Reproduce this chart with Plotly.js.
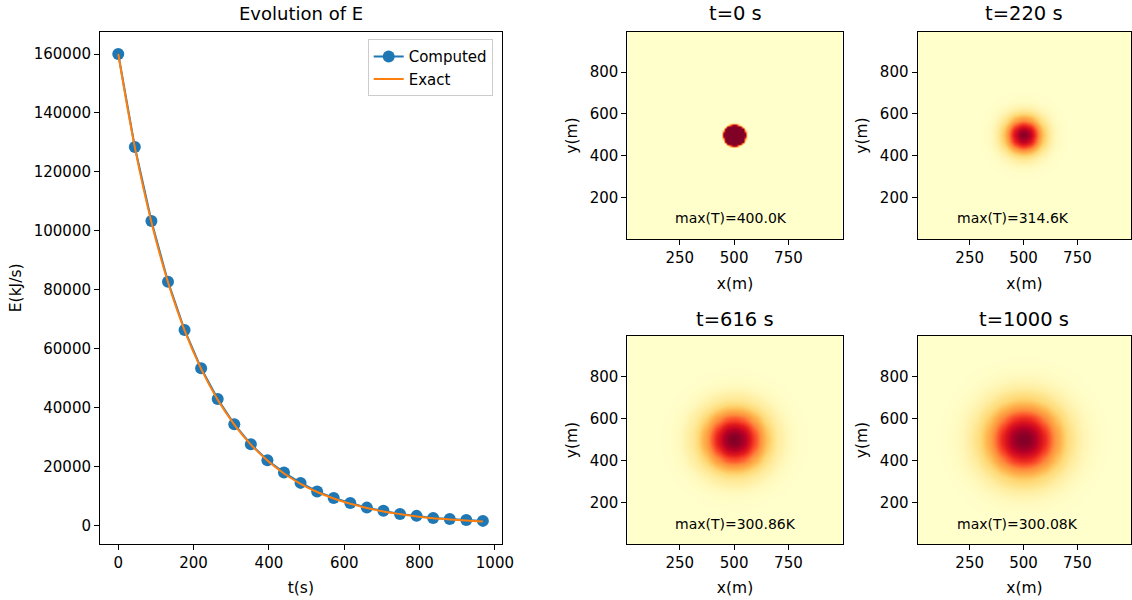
<!DOCTYPE html>
<html>
<head>
<meta charset="utf-8">
<script src="https://cdn.plot.ly/plotly-3.0.1.min.js"></script>
<style>html,body{margin:0;padding:0;background:#fff;}#chart{width:1132px;height:600px;}</style>
</head>
<body>
<div id="chart"></div>
<script>
// ---- Data ----
const timesS = [0,44,88,132,176,220,264,308,352,396,440,484,528,572,616,660,704,748,792,836,880,924,968];
const computedE = [160000,128400,103300,82700,66300,53300,42900,34300,27500,22100,17900,14400,11500,9300,7600,6000,4900,3800,3200,2500,2100,1800,1500];
const exactE = [160000,128300,102900,82500,66200,53100,42600,34200,27400,22000,17600,14100,11300,9100,7300,5900,4700,3800,3000,2400,2000,1600,1300];

const panelTitles = ["t=0 s", "t=220 s", "t=616 s", "t=1000 s"];
const maxLabels = ["max(T)=400.0K", "max(T)=314.6K", "max(T)=300.86K", "max(T)=300.08K"];

// radial temperature profiles (distance from centre in m -> T in K)
const profR0 = [0, 50, 56, 1000];
const profT0 = [400, 400, 300, 300];
const profR1 = [0, 25, 50, 75, 100, 125, 150, 175, 200, 250, 1000];
const profT1 = [314.6, 313.39, 310.32, 306.69, 303.65, 301.66, 300.64, 300.20, 300.06, 300.0, 300];
const profR2 = [0, 25, 50, 75, 100, 125, 150, 175, 200, 250, 300, 350, 1000];
const profT2 = [300.86, 300.833, 300.759, 300.649, 300.522, 300.394, 300.280, 300.186, 300.116, 300.038, 300.009, 300.002, 300];
const profR3 = [0, 25, 50, 75, 100, 125, 150, 175, 200, 250, 300, 350, 400, 1000];
const profT3 = [300.080, 300.0783, 300.0734, 300.0658, 300.0566, 300.0465, 300.0366, 300.0276, 300.0200, 300.0091, 300.0035, 300.0011, 300.0003, 300];
const centreXY = [500, 500];
const gridX = [], gridY = [];
for (let v = 0; v <= 1000; v += 10) { gridX.push(v); gridY.push(v); }

function interp(rs, ts, r) {
  for (let i = 1; i < rs.length; i++) {
    if (r <= rs[i]) { const f = (r - rs[i-1]) / (rs[i] - rs[i-1]); return ts[i-1] + f * (ts[i] - ts[i-1]); }
  }
  return ts[ts.length - 1];
}
function field(rs, ts) {
  return gridY.map(y => gridX.map(x => interp(rs, ts, Math.hypot(x - centreXY[0], y - centreXY[1]))));
}

const ylorrd = [[0,'#ffffcc'],[0.125,'#ffeda0'],[0.25,'#fed976'],[0.375,'#feb24c'],[0.5,'#fd8d3c'],[0.625,'#fc4e2a'],[0.75,'#e31a1c'],[0.875,'#bd0026'],[1,'#800026']];
const FONT = 'DejaVu Sans, sans-serif';
const TXT = '#000';

const hm = (rs, ts, xa, ya, smooth) => ({
  type: 'heatmap', x: gridX, y: gridY, z: field(rs, ts), colorscale: ylorrd,
  showscale: false, zsmooth: smooth, xaxis: xa, yaxis: ya, hoverinfo: 'skip'
});

const traces = [
  { type: 'scatter', mode: 'lines+markers', name: 'Computed', x: timesS, y: computedE,
    line: { color: '#1f77b4', width: 2 }, marker: { color: '#1f77b4', size: 12 } },
  { type: 'scatter', mode: 'lines', name: 'Exact', x: timesS, y: exactE,
    line: { color: '#ff7f0e', width: 2, shape: 'spline' } },
  hm(profR0, profT0, 'x2', 'y2', 'best'),
  hm(profR1, profT1, 'x3', 'y3', 'best'),
  hm(profR2, profT2, 'x4', 'y4', 'best'),
  hm(profR3, profT3, 'x5', 'y5', 'best')
];

const W = 1132, H = 600;
const px = v => v / W, py = v => 1 - v / H;

const baseAxis = {
  showline: true, mirror: true, linecolor: '#000', linewidth: 1,
  ticks: 'outside', ticklen: 5, tickcolor: '#000', tickwidth: 1,
  showgrid: false, zeroline: false,
  tickfont: { family: FONT, size: 15, color: TXT }
};
const hmX = (dom, anchor) => Object.assign({}, baseAxis, {
  domain: dom, anchor: anchor, range: [8, 1000], tickvals: [250, 500, 750],
  title: { text: 'x(m)', font: { family: FONT, size: 15.5, color: TXT }, standoff: 11 }
});
const hmY = (dom, anchor) => Object.assign({}, baseAxis, {
  domain: dom, anchor: anchor, range: [3, 992], tickvals: [200, 400, 600, 800],
  title: { text: 'y(m)', font: { family: FONT, size: 15.5, color: TXT }, standoff: 8 }
});

const topY = [py(239.3), py(31.7)];
const botY = [py(544), py(336)];
const leftX = [px(627.3), px(842.7)];
const rightX = [px(917.5), px(1131.3)];

const ttl = (text, x, y, size) => ({ text: text, x: x, y: y, xref: 'paper', yref: 'paper', showarrow: false,
  font: { family: FONT, size: size, color: TXT }, xanchor: 'center', yanchor: 'middle' });
const lab = (text, x, y, xr, yr) => ({ text: text, x: x, y: y, xref: xr, yref: yr, showarrow: false,
  xanchor: 'left', yanchor: 'middle', font: { family: FONT, size: 14, color: TXT } });

const annotations = [
  ttl('Evolution of E', px(300.8), py(14), 18),
  ttl(panelTitles[0], (leftX[0]+leftX[1])/2, py(14), 19.5),
  ttl(panelTitles[1], (rightX[0]+rightX[1])/2, py(14), 19.5),
  ttl(panelTitles[2], (leftX[0]+leftX[1])/2, py(319), 19.5),
  ttl(panelTitles[3], (rightX[0]+rightX[1])/2, py(319), 19.5),
  lab(maxLabels[0], 218, 103, 'x2', 'y2'),
  lab(maxLabels[1], 183, 103, 'x3', 'y3'),
  lab(maxLabels[2], 218, 100, 'x4', 'y4'),
  lab(maxLabels[3], 183, 100, 'x5', 'y5')
];

const layout = {
  width: W, height: H, margin: { l: 0, r: 0, t: 0, b: 0 },
  paper_bgcolor: '#fff', plot_bgcolor: '#fff',
  font: { family: FONT, color: TXT },
  showlegend: true,
  legend: { x: px(492.7), y: py(39.3), xanchor: 'right', yanchor: 'top',
    bordercolor: '#cccccc', borderwidth: 1, bgcolor: '#fff',
    font: { family: FONT, size: 15, color: TXT }, tracegroupgap: 0 },
  xaxis: Object.assign({}, baseAxis, { domain: [px(100), px(501.7)], anchor: 'y', range: [-48.5, 1018],
    tickvals: [0, 200, 400, 600, 800, 1000],
    title: { text: 't(s)', font: { family: FONT, size: 15.5, color: TXT }, standoff: 11 } }),
  yaxis: Object.assign({}, baseAxis, { domain: [py(544), py(31.7)], anchor: 'x', range: [-6350, 167570],
    tickvals: [0, 20000, 40000, 60000, 80000, 100000, 120000, 140000, 160000], tickformat: 'd',
    title: { text: 'E(kJ/s)', font: { family: FONT, size: 15.5, color: TXT }, standoff: 8 } }),
  xaxis2: hmX(leftX, 'y2'), yaxis2: hmY(topY, 'x2'),
  xaxis3: hmX(rightX, 'y3'), yaxis3: hmY(topY, 'x3'),
  xaxis4: hmX(leftX, 'y4'), yaxis4: hmY(botY, 'x4'),
  xaxis5: hmX(rightX, 'y5'), yaxis5: hmY(botY, 'x5'),
  annotations: annotations
};

Plotly.newPlot('chart', traces, layout, { displayModeBar: false, staticPlot: true });
</script>
</body>
</html>
